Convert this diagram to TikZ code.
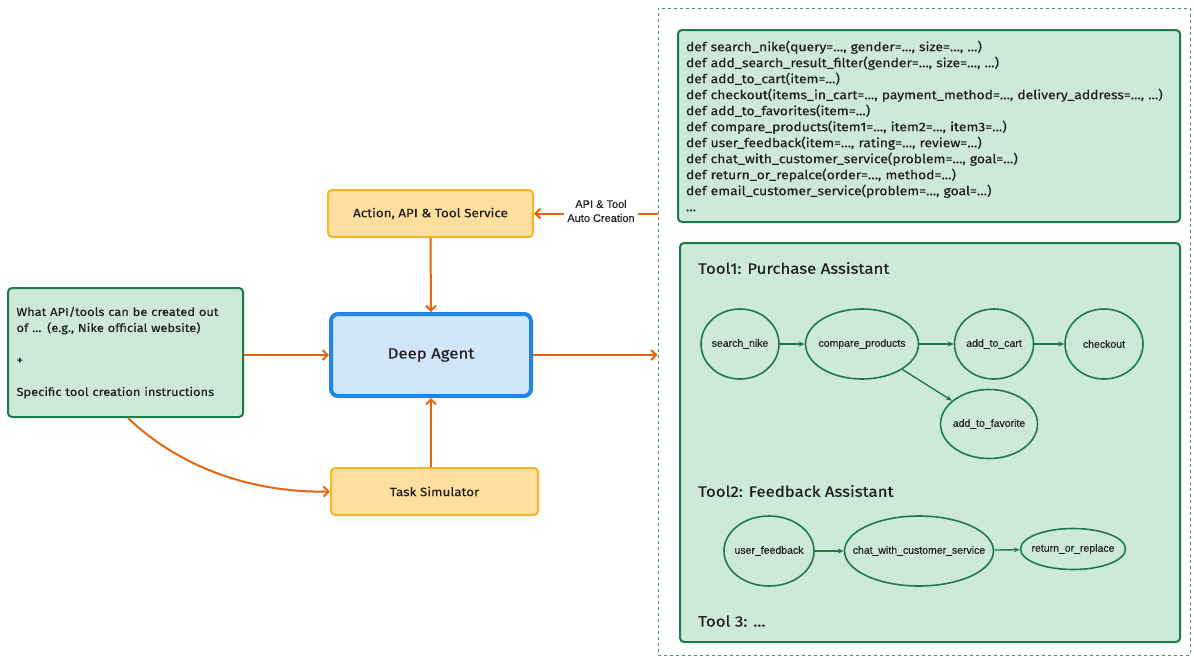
\documentclass[tikz,border=0pt]{standalone}
\usepackage{fontspec}
\setmainfont{Fira Sans}[FakeStretch=1.12,FakeBold=0.35]
\newfontfamily\lblfont{Liberation Sans}[FakeBold=0.2]
\usetikzlibrary{arrows.meta,shapes.geometric}
\definecolor{gfill}{HTML}{CDEAD8}
\definecolor{gdraw}{HTML}{1E7A48}
\definecolor{ofill}{HTML}{FFDF9E}
\definecolor{odraw}{HTML}{F7B62A}
\definecolor{bfill}{HTML}{D2E6FB}
\definecolor{bdraw}{HTML}{1E86E6}
\definecolor{oarrow}{HTML}{E8650F}
\definecolor{txt}{HTML}{1E1E1E}
\tikzset{
  gbox/.style={draw=gdraw,fill=gfill,line width=2pt,rounded corners=4pt,text=txt},
  obox/.style={draw=odraw,fill=ofill,line width=2pt,rounded corners=4pt,text=txt,font=\fontsize{12}{14}\selectfont},
  bbox/.style={draw=bdraw,fill=bfill,line width=4pt,rounded corners=7pt,text=txt,font=\fontsize{15}{18}\selectfont},
  oarr/.style={draw=oarrow,line width=2pt,-{Straight Barb[length=5pt,width=10pt]}},
  garr/.style={draw=gdraw,line width=1.4pt,-{Stealth[length=6pt,width=5pt]}},
  ell/.style={ellipse,draw=gdraw,line width=1.6pt,inner sep=0pt,
     label={[text=txt,font=\lblfont\fontsize{10.5}{12}\selectfont,inner sep=0pt]center:#1}},
  title/.style={anchor=west,text=txt,font=\fontsize{15}{18}\selectfont,inner sep=0pt},
}
\begin{document}
\begin{tikzpicture}[x=1pt,y=-1pt]
\useasboundingbox (0,0) rectangle (1194,657);
% dashed group
\node[draw=gdraw!80,dashed,line width=0.9pt,minimum width=532pt,minimum height=647pt,inner sep=0pt] (group) at (924,331.5) {};
% left input
\node[gbox,minimum width=235pt,minimum height=129pt,text width=218pt,align=left,font=\fontsize{11.5}{16}\selectfont] (input) at (125.5,352.5)
 {What API/tools can be created out\\of ... (e.g., Nike official website)\\[16pt]+\\[16pt]Specific tool creation instructions};
% center column
\node[obox,minimum width=205pt,minimum height=47pt] (action) at (430.5,213.5) {Action, API \& Tool Service};
\node[bbox,minimum width=200pt,minimum height=82pt] (agent) at (431,355) {Deep Agent};
\node[obox,minimum width=207pt,minimum height=47pt] (task) at (434.5,491.5) {Task Simulator};
% code box
\node[gbox,minimum width=502pt,minimum height=192pt,text width=486pt,align=left,font=\fontsize{12.4}{16}\selectfont] (code) at (929,126) {%
def search\_nike(query=..., gender=..., size=..., ...)\\
def add\_search\_result\_filter(gender=..., size=..., ...)\\
def add\_to\_cart(item=...)\\
def checkout(items\_in\_cart=..., payment\_method=..., delivery\_address=..., ...)\\
def add\_to\_favorites(item=...)\\
def compare\_products(item1=..., item2=..., item3=...)\\
def user\_feedback(item=..., rating=..., review=...)\\
def chat\_with\_customer\_service(problem=..., goal=...)\\
def return\_or\_repalce(order=..., method=...)\\
def email\_customer\_service(problem=..., goal=...)\\
...};
% tools box
\node[gbox,minimum width=500pt,minimum height=399pt] (tools) at (930,442.5) {};
\node[title] (t1) at (698,268) {Tool1: Purchase Assistant};
\node[title] (t2) at (698,491) {Tool2: Feedback Assistant};
\node[title] (t3) at (698,621) {Tool 3: ...};
% tool1 graph
\node[ell={search\_nike},minimum width=78pt,minimum height=70pt] (search) at (740,344) {};
\node[ell={compare\_products},minimum width=113pt,minimum height=70pt] (compare) at (862,344) {};
\node[ell={add\_to\_cart},minimum width=79pt,minimum height=70pt] (cart) at (994,344) {};
\node[ell={checkout},minimum width=78pt,minimum height=70pt] (checkout) at (1104,344) {};
\node[ell={add\_to\_favorite},minimum width=97pt,minimum height=69pt] (fav) at (989,424) {};
\draw[garr] (search) -- (compare);
\draw[garr] (compare) -- (cart);
\draw[garr] (cart) -- (checkout);
\draw[garr] (compare) -- (fav);
% tool2 graph
\node[ell={user\_feedback},minimum width=90pt,minimum height=70pt] (feedback) at (769,551) {};
\node[ell={chat\_with\_customer\_service},minimum width=149pt,minimum height=70pt] (chat) at (919,551) {};
\node[ell={return\_or\_replace},minimum width=105pt,minimum height=41pt] (ret) at (1073,549) {};
\draw[garr] (feedback) -- (chat);
\draw[garr] (chat) -- (ret);
% orange connectors
\draw[oarr] (input.east |- agent) -- (agent.west);
\draw[oarr] (agent.east) -- (group.west |- agent);
\draw[oarr] (action.south) -- (agent.north);
\draw[oarr] (task.north -| agent) -- (agent.south);
\draw[oarr] ([xshift=2.5pt]input.south) .. controls (178,466) and (250,493) .. (task.west);
\node[text=txt,align=center,font=\lblfont\fontsize{11}{14}\selectfont,inner sep=3pt] (lbl) at (601,211) {API \& Tool\\Auto Creation};
\draw[draw=oarrow,line width=2pt] (group.west |- action) -- (lbl.east |- action);
\draw[oarr] (lbl.west |- action) -- (action.east);
\end{tikzpicture}
\end{document}
